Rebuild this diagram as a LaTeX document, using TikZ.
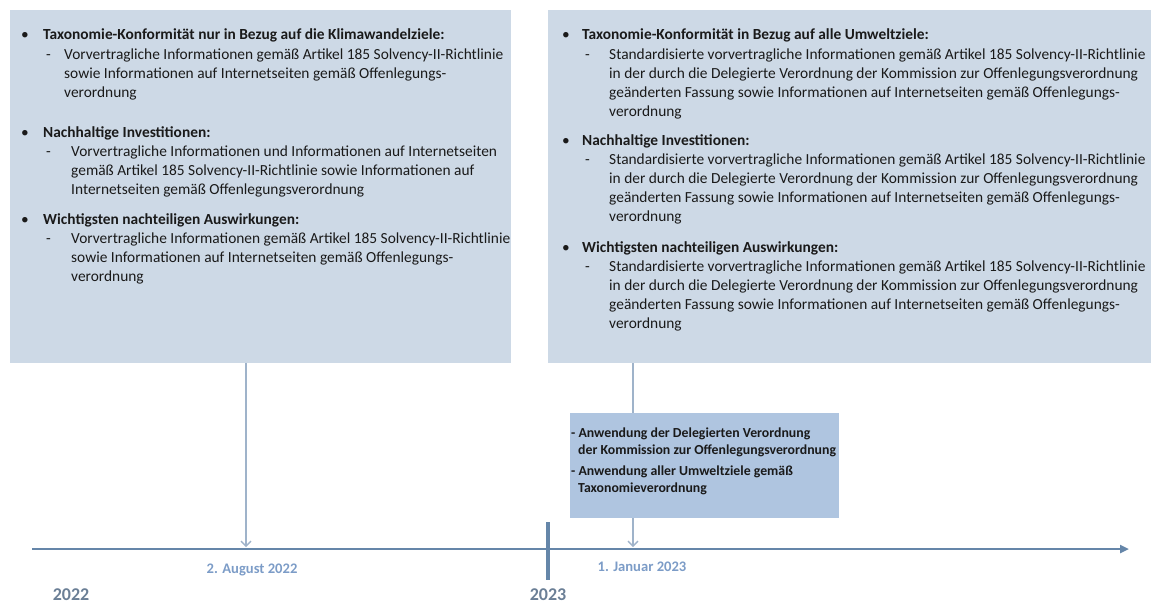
\documentclass[tikz,border=0pt]{standalone}
\usepackage{fontspec}
\setmainfont{Carlito}
\usetikzlibrary{arrows.meta}
\definecolor{panelc}{HTML}{CDD9E6}
\definecolor{notec}{HTML}{AFC5E0}
\definecolor{connc}{HTML}{9FB3CA}
\definecolor{axisc}{HTML}{6586A9}
\definecolor{datec}{HTML}{7C9CC7}
\definecolor{yearc}{HTML}{6B7F96}
\definecolor{txtc}{HTML}{1A1A1A}
\begin{document}
\begin{tikzpicture}[x=1pt,y=-1pt,
  panel/.style={fill=panelc, draw=none, anchor=north west, inner sep=0},
  note/.style={fill=notec, draw=none, anchor=north west, inner sep=0},
  hd/.style={anchor=base west, inner sep=0, font=\fontsize{15.4}{18}\selectfont\bfseries, text=txtc},
  bd/.style={anchor=base west, inner sep=0, font=\fontsize{15.4}{18}\selectfont, text=txtc},
  nt/.style={anchor=base west, inner sep=0, font=\fontsize{13.8}{16}\selectfont\bfseries, text=txtc},
  dt/.style={anchor=base, inner sep=0, font=\fontsize{14.6}{17}\selectfont\bfseries, text=datec},
  yr/.style={anchor=base, inner sep=0, text depth=0pt, font=\fontsize{18}{21}\selectfont\bfseries, text=yearc},
  conn/.style={draw=connc, line width=1.5pt},
  connarr/.style={conn, -{Straight Barb[length=5pt,width=10pt,line width=1.3pt]}},
]
\useasboundingbox (0,0) rectangle (1151,603);

% panels
\node[panel, minimum width=501pt, minimum height=353pt] (lbox) at (10,10) {};
\node[panel, minimum width=603pt, minimum height=353pt] (rbox) at (548,10) {};
\node[note, minimum width=269pt, minimum height=105pt] (nbox) at (570,413) {};

% timeline
\coordinate (tl0) at (32,549);
\coordinate (tl1) at (1129,549);
\draw[draw=axisc, line width=2.5pt, -{Triangle[length=9pt,width=8pt]}] (tl0) -- (tl1);
\coordinate (tk0) at (548,522);
\coordinate (tk1) at (548,580);
\draw[draw=axisc, line width=4pt] (tk0) -- (tk1);

% connectors
\coordinate (aug) at (246,547);
\coordinate (jan) at (633,547);
\draw[connarr] (lbox.south -| aug) -- (aug);
\draw[conn] (rbox.south -| jan) -- (nbox.north -| jan);
\draw[connarr] (nbox.south -| jan) -- (jan);

% left panel text
\node[bd] (lb1) at (21,39) {•};
\node[hd] (lh1) at (43,39) {Taxonomie-Konformität nur in Bezug auf die Klimawandelziele:};
\node[bd] (ld1) at (46,59) {-};
\node[bd] (l11) at (64,59) {Vorvertragliche Informationen gemäß Artikel 185 Solvency-II-Richtlinie};
\node[bd] (l12) at (64,78) {sowie Informationen auf Internetseiten gemäß Offenlegungs-};
\node[bd] (l13) at (64,97) {verordnung};

\node[bd] (lb2) at (21,137) {•};
\node[hd] (lh2) at (43,137) {Nachhaltige Investitionen:};
\node[bd] (ld2) at (46,156) {-};
\node[bd] (l21) at (71,156) {Vorvertragliche Informationen und Informationen auf Internetseiten};
\node[bd] (l22) at (71,175) {gemäß Artikel 185 Solvency-II-Richtlinie sowie Informationen auf};
\node[bd] (l23) at (71,194) {Internetseiten gemäß Offenlegungsverordnung};

\node[bd] (lb3) at (21,224) {•};
\node[hd] (lh3) at (43,224) {Wichtigsten nachteiligen Auswirkungen:};
\node[bd] (ld3) at (46,243) {-};
\node[bd] (l31) at (71,243) {Vorvertragliche Informationen gemäß Artikel 185 Solvency-II-Richtlinie};
\node[bd] (l32) at (71,262) {sowie Informationen auf Internetseiten gemäß Offenlegungs-};
\node[bd] (l33) at (71,281) {verordnung};

% right panel text
\node[bd] (rb1) at (562,39) {•};
\node[hd] (rh1) at (582,39) {Taxonomie-Konformität in Bezug auf alle Umweltziele:};
\node[bd] (rd1) at (585,59) {-};
\node[bd] (r11) at (609,59) {Standardisierte vorvertragliche Informationen gemäß Artikel 185 Solvency-II-Richtlinie};
\node[bd] (r12) at (609,78) {in der durch die Delegierte Verordnung der Kommission zur Offenlegungsverordnung};
\node[bd] (r13) at (609,97) {geänderten Fassung sowie Informationen auf Internetseiten gemäß Offenlegungs-};
\node[bd] (r14) at (609,116) {verordnung};

\node[bd] (rb2) at (562,145) {•};
\node[hd] (rh2) at (582,145) {Nachhaltige Investitionen:};
\node[bd] (rd2) at (585,164) {-};
\node[bd] (r21) at (609,164) {Standardisierte vorvertragliche Informationen gemäß Artikel 185 Solvency-II-Richtlinie};
\node[bd] (r22) at (609,183) {in der durch die Delegierte Verordnung der Kommission zur Offenlegungsverordnung};
\node[bd] (r23) at (609,202) {geänderten Fassung sowie Informationen auf Internetseiten gemäß Offenlegungs-};
\node[bd] (r24) at (609,221) {verordnung};

\node[bd] (rb3) at (562,252) {•};
\node[hd] (rh3) at (582,252) {Wichtigsten nachteiligen Auswirkungen:};
\node[bd] (rd3) at (585,271) {-};
\node[bd] (r31) at (609,271) {Standardisierte vorvertragliche Informationen gemäß Artikel 185 Solvency-II-Richtlinie};
\node[bd] (r32) at (609,290) {in der durch die Delegierte Verordnung der Kommission zur Offenlegungsverordnung};
\node[bd] (r33) at (609,309) {geänderten Fassung sowie Informationen auf Internetseiten gemäß Offenlegungs-};
\node[bd] (r34) at (609,328) {verordnung};

% note box text
\node[nt] (n1) at (571,437.5) {- Anwendung der Delegierten Verordnung};
\node[nt] (n2) at (578,454) {der Kommission zur Offenlegungsverordnung};
\node[nt] (n3) at (571,475.5) {- Anwendung aller Umweltziele gemäß};
\node[nt] (n4) at (578,492.5) {Taxonomieverordnung};

% dates and years
\node[dt] (d1) at (252,573) {2. August 2022};
\node[dt] (d2) at (642,571) {1. Januar 2023};
\node[yr] (y1) at (71,600) {2022};
\node[yr] (y2) at (548,600) {2023};
\end{tikzpicture}
\end{document}
